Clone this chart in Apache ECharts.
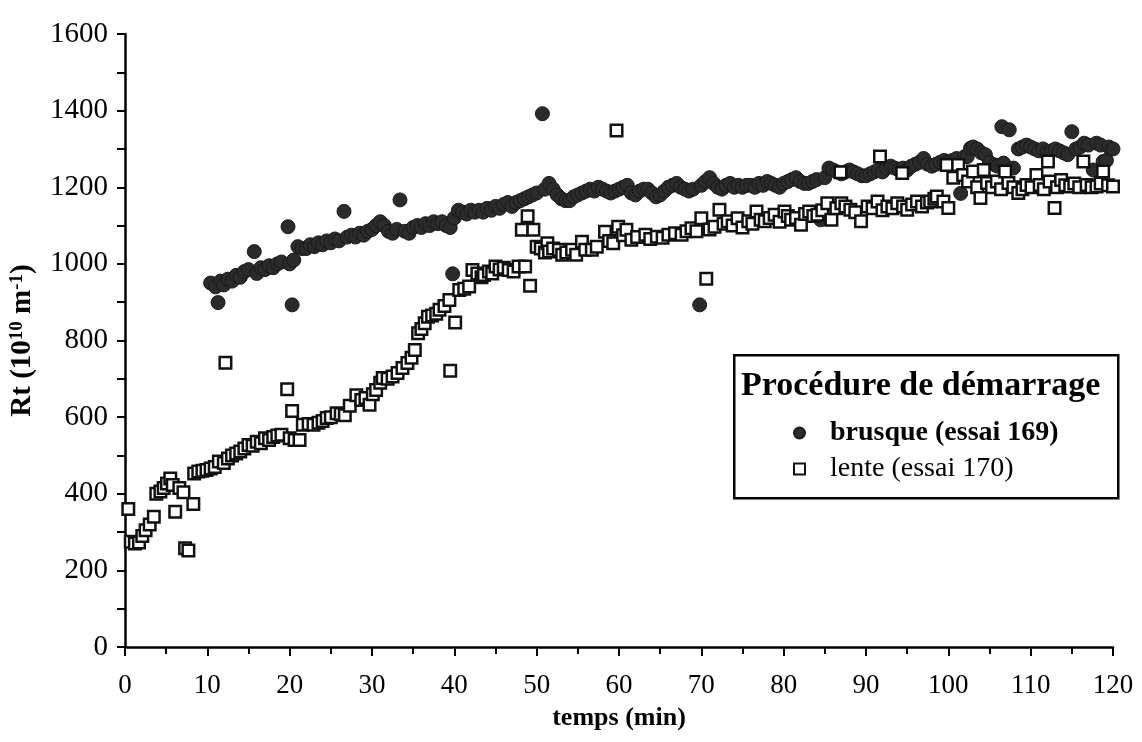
<!DOCTYPE html>
<html>
<head>
<meta charset="utf-8">
<script src="https://cdn.jsdelivr.net/npm/echarts@6/dist/echarts.min.js"></script>
<style>
html,body{margin:0;padding:0;background:#fff;}
#chart{width:1142px;height:742px;}
</style>
</head>
<body>
<div id="chart"></div>
<script>
// ---- Data ----
var brusqueT = [10.4,11,11.3,11.6,12,12.5,13,13.5,14,14.5,15,15.7,16,16.5,17,17.5,18,18.5,19,19.8,20.3,20,20.5,21,21.5,22,22.5,23,23.5,24,24.5,25,25.5,26,26.6,27,27.5,28,28.5,29,29.5,30,30.5,31,31.5,32,32.5,33,33.4,34,34.5,35,35.5,36,36.5,37,37.5,38,38.5,39,39.5,39.8,40,40.5,41,41.5,42,42.5,43,43.5,44,44.5,45,45.5,46,46.5,47,47.5,48,48.5,49,49.5,50,50.7,51,51.5,52,52.5,53,53.5,54,54.5,55,55.5,56,56.5,57,57.5,58,58.5,59,59.5,60,60.5,61,61.5,62,62.5,63,63.5,64,64.5,65,65.5,66,66.5,67,67.5,68,68.5,69,69.8,70,70.5,71,71.5,72,72.5,73,73.5,74,74.5,75,75.5,76,76.5,77,77.5,78,78.5,79,79.5,80,80.5,81,81.5,82,82.5,83,83.5,84,84.5,85,85.5,86,86.5,87,87.5,88,88.5,89,89.5,90,90.5,91,91.5,92,92.5,93,93.5,94,94.5,95,95.5,96,96.5,97,97.5,98,98.5,99,99.5,100,100.5,101,101.5,102,102.3,102.7,103,103.5,104,104.5,105,105.7,106,106.5,106.7,107.4,107.9,108.5,109,109.5,110,110.5,111,111.5,112,112.5,113,113.5,114,114.5,115,115.5,116,116.5,117,117.6,118,118.5,118.8,119.2,119.5,120];
var brusqueRt = [950,940,899,955,945,960,955,970,965,980,985,1032,975,990,985,995,990,1000,1005,1097,893,1000,1010,1045,1040,1040,1050,1045,1055,1050,1060,1055,1065,1060,1137,1070,1075,1070,1080,1075,1085,1090,1100,1110,1100,1085,1080,1090,1167,1085,1080,1095,1100,1095,1105,1100,1110,1105,1110,1100,1095,974,1120,1140,1135,1130,1140,1135,1140,1135,1145,1140,1150,1145,1155,1160,1150,1160,1165,1170,1175,1180,1185,1392,1195,1210,1195,1180,1170,1165,1165,1175,1180,1185,1190,1195,1190,1200,1195,1190,1185,1190,1195,1200,1205,1185,1180,1190,1195,1195,1185,1175,1180,1190,1200,1205,1210,1200,1195,1190,1195,893,1205,1215,1225,1210,1200,1195,1205,1210,1200,1205,1200,1205,1205,1200,1210,1205,1215,1210,1205,1200,1210,1215,1220,1225,1215,1210,1210,1215,1220,1115,1225,1250,1245,1240,1235,1240,1245,1240,1235,1230,1230,1235,1240,1245,1240,1250,1255,1250,1245,1250,1245,1255,1260,1265,1275,1260,1255,1260,1265,1270,1265,1270,1275,1184,1280,1280,1302,1305,1300,1290,1285,1265,1258,1255,1358,1263,1350,1250,1300,1305,1310,1305,1300,1295,1300,1290,1295,1300,1295,1290,1285,1345,1300,1305,1315,1310,1245,1315,1310,1267,1270,1305,1300];

var lenteT = [0.4,0.7,1.2,1.7,2.1,2.5,3,3.5,3.8,4.3,4.7,5.1,5.5,5.8,6.1,6.6,7.1,7.3,7.7,8.3,8.4,8.9,9.4,9.9,10.4,10.9,11.4,12.2,12,12.5,13,13.5,14,14.5,15,15.5,16,16.5,17,17.5,18,18.5,19,19.7,20.3,20,20.6,21.2,21.6,22.3,22.9,23.5,24,24.5,25,25.7,26.2,26.7,27.3,28.1,28.7,29.2,29.7,30.1,30.5,31,31.3,31.9,32.5,33.1,33.7,34.3,34.8,35.2,35.6,36,36.4,36.8,37.3,37.8,38.2,38.8,39.4,39.5,40.1,40.6,41.2,41.8,42.2,42.8,43.3,43.6,44.2,44.6,45,45.5,46,46.6,47.2,47.8,48.2,48.6,48.9,49.2,49.6,50,50.5,51,51.3,51.5,52,52.7,53.1,53.6,54.3,54.8,55.5,55.9,56.7,57.3,58.3,58.8,59.3,59.7,59.9,60.5,60.9,61.5,62.2,63.2,63.8,64.6,65.3,66,66.8,67.6,68.2,68.8,69.4,70,70.6,71,71.6,72.2,72.7,73.2,73.8,74.4,75,75.7,76.2,76.7,77.2,77.7,78.3,78.9,79.5,80.1,80.5,80.9,81.5,82.1,82.6,83.1,83.6,84.1,84.7,85.3,85.8,86.4,86.9,87,87.5,88.1,88.7,89.4,90.2,90.8,91.4,91.7,92,92.6,93.2,93.8,94.4,94.5,95,95.6,96.2,96.8,97.4,97.8,98.3,98.6,99.4,99.8,100,100.6,101.2,101.8,102.4,103,103.5,103.9,104.3,104.7,105.3,105.9,106.4,106.9,107.3,107.9,108.5,109,109.5,110.1,110.7,111.1,111.6,112.1,112.3,112.9,113.2,113.7,114.2,114.8,115.3,115.9,116.4,116.8,117.4,118,118.5,118.8,119.4,120];
var lenteRt = [360,275,270,273,290,305,320,340,400,406,415,427,440,423,353,415,404,258,252,373,453,458,460,462,466,470,484,742,480,492,500,505,510,518,527,525,536,532,545,540,548,552,554,673,616,545,540,540,580,582,580,585,590,598,600,610,608,605,630,657,645,650,632,660,671,690,702,700,706,715,728,741,755,775,819,830,845,862,865,870,880,890,906,721,847,932,935,941,984,975,965,971,980,975,993,985,990,984,980,993,1089,993,1124,943,1089,1045,1040,1030,1054,1032,1040,1037,1024,1030,1037,1024,1058,1037,1037,1045,1084,1060,1054,1348,1097,1075,1089,1063,1070,1076,1065,1071,1068,1076,1080,1076,1085,1093,1085,1119,961,1090,1097,1141,1105,1111,1100,1119,1095,1111,1105,1137,1115,1111,1120,1128,1110,1137,1125,1115,1120,1102,1130,1137,1125,1128,1140,1158,1115,1145,1239,1158,1150,1141,1135,1111,1150,1145,1163,1280,1140,1150,1145,1158,1237,1150,1141,1155,1163,1150,1160,1163,1170,1176,1163,1258,1146,1225,1258,1232,1215,1241,1200,1172,1245,1211,1200,1215,1195,1241,1211,1200,1185,1195,1206,1200,1232,1206,1195,1267,1215,1146,1200,1219,1205,1202,1210,1200,1267,1206,1200,1202,1210,1241,1205,1202];

var xTicks = [0,10,20,30,40,50,60,70,80,90,100,110,120];
var yTicks = [0,200,400,600,800,1000,1200,1400,1600];
var seriesNames = ['brusque (essai 169)', 'lente (essai 170)'];
var legendTitle = 'Procédure de démarrage';

function zip(a, b) { return a.map(function (v, i) { return [v, b[i]]; }); }

var FONT = "'Liberation Serif', 'Times New Roman', serif";
var chart = echarts.init(document.getElementById('chart'), null, {renderer: 'canvas'});

var option = {
  backgroundColor: '#ffffff',
  animation: false,
  textStyle: {fontFamily: FONT, color: '#000'},
  grid: {left: 121, right: 29, top: 34, bottom: 95, containLabel: false},
  xAxis: {
    type: 'value',
    min: xTicks[0], max: xTicks[xTicks.length - 1], interval: 10,
    name: 'temps (min)', nameLocation: 'middle', nameGap: 58,
    nameTextStyle: {fontFamily: FONT, fontSize: 26, fontWeight: 'bold', color: '#000'},
    axisLine: {show: true, onZero: false, lineStyle: {color: '#000', width: 2.5}},
    axisTick: {show: true, inside: false, length: 9, lineStyle: {color: '#000', width: 2}},
    minorTick: {show: true, splitNumber: 2, length: 7, lineStyle: {color: '#000', width: 2}},
    axisLabel: {fontFamily: FONT, fontSize: 27, color: '#000', margin: 25,
                formatter: function (v) { return String(v); }},
    splitLine: {show: false}
  },
  yAxis: {
    type: 'value',
    min: yTicks[0], max: yTicks[yTicks.length - 1], interval: 200,
    name: 'Rt (10{sup|10} m{sup|-1})', nameLocation: 'middle', nameGap: 88, nameRotate: 90,
    nameTextStyle: {
      fontFamily: FONT, fontSize: 29, fontWeight: 'bold', color: '#000',
      rich: {
        sup: {fontFamily: FONT, fontSize: 19, fontWeight: 'bold', color: '#000', verticalAlign: 'top', lineHeight: 18}
      }
    },
    axisLine: {show: true, onZero: false, lineStyle: {color: '#000', width: 2.5}},
    axisTick: {show: true, inside: false, length: 8, lineStyle: {color: '#000', width: 2}},
    minorTick: {show: true, splitNumber: 2, length: 8, lineStyle: {color: '#000', width: 2}},
    axisLabel: {fontFamily: FONT, fontSize: 29, color: '#000', margin: 17,
                formatter: function (v) { return String(v); }},
    splitLine: {show: false}
  },
  legend: {
    show: true,
    orient: 'vertical',
    left: 788, top: 414,
    itemWidth: 11, itemHeight: 11, itemGap: 8,
    data: seriesNames,
    formatter: function (name) { return name === seriesNames[0] ? '{b|' + name + '}' : '{n|' + name + '}'; },
    textStyle: {
      fontFamily: FONT, color: '#000', padding: [0, 0, 0, 20],
      rich: {
        b: {fontFamily: FONT, fontSize: 28, fontWeight: 'bold', color: '#000'},
        n: {fontFamily: FONT, fontSize: 28, fontWeight: 'normal', color: '#000'}
      }
    }
  },
  graphic: [
    {type: 'rect', left: 733, top: 354, z: 0,
     shape: {width: 384, height: 143},
     style: {fill: '#fff', stroke: '#000', lineWidth: 2.5}},
    {type: 'text', left: 741, top: 369, z: 10,
     style: {text: legendTitle, font: 'bold 34px ' + FONT, fill: '#000'}}
  ],
  series: [
    {
      name: seriesNames[0], type: 'scatter', symbol: 'circle', symbolSize: 14,
      data: zip(brusqueT, brusqueRt),
      itemStyle: {color: '#2b2b2b', borderColor: '#1a1a1a', borderWidth: 1, opacity: 1},
      z: 3
    },
    {
      name: seriesNames[1], type: 'scatter', symbol: 'rect', symbolSize: 11.5,
      data: zip(lenteT, lenteRt),
      itemStyle: {color: '#ffffff', borderColor: '#111', borderWidth: 2.5, opacity: 1},
      z: 4
    }
  ]
};
chart.setOption(option);
</script>
</body>
</html>
